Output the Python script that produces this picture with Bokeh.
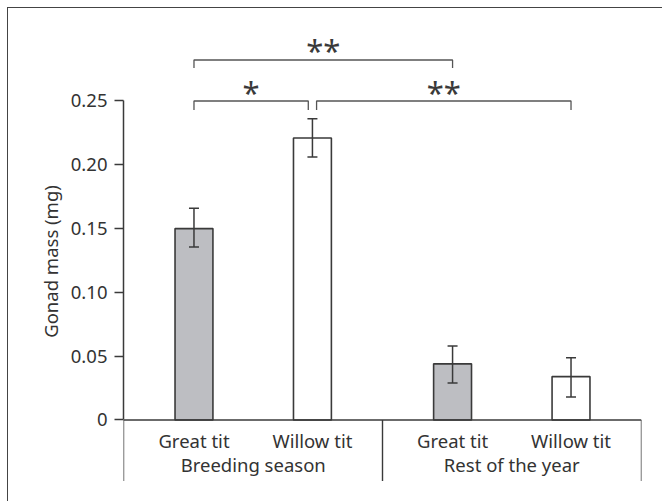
from bokeh.plotting import figure
from bokeh.models import (ColumnDataSource, FactorRange, Range1d, FixedTicker,
                          Whisker, TeeHead)
from bokeh.core.properties import value
from bokeh.embed import file_html
from bokeh.resources import INLINE

# ---------------- data ----------------
seasons = ["Breeding season", "Rest of the year"]
species = ["Great tit", "Willow tit"]
gonad_mass = [0.150, 0.221, 0.044, 0.034]
err_upper = [0.166, 0.236, 0.058, 0.0487]
err_lower = [0.1355, 0.206, 0.029, 0.018]
y_ticks = [0, 0.05, 0.10, 0.15, 0.20, 0.25]
y_tick_labels = ["0", "0.05", "0.10", "0.15", "0.20", "0.25"]
# significance comparisons between bars: (bar a, bar b, label, bracket level)
comparisons = [(0, 1, "*", 0), (1, 3, "**", 0), (0, 2, "**", 1)]

# ---------------- layout constants ----------------
FONT = "Noto Sans"
TXT = "#333333"
LINE = "#3a3a3a"
GROUP_PAD = 0.183
RANGE_PAD = 0.19 / (4 + GROUP_PAD)

factors = [(s, sp) for s in seasons for sp in species]
n = len(factors)


def syn(i):
    # synthetic coordinate of the i-th factor in the nested FactorRange
    return i + 0.5 + (i // len(species)) * GROUP_PAD


total = n + (len(seasons) - 1) * GROUP_PAD
half = total * RANGE_PAD / 2
x_left, x_right = -half, total + half

p = figure(width=655, height=494,
           x_range=FactorRange(*factors, factor_padding=0.0,
                               group_padding=GROUP_PAD,
                               range_padding=RANGE_PAD),
           y_range=Range1d(-0.0584, 0.3068),
           x_axis_location=None,
           output_backend="svg", toolbar_location=None,
           min_border_left=115, min_border_right=22,
           min_border_top=20, min_border_bottom=8)
p.outline_line_color = None
p.grid.visible = False
p.background_fill_color = "white"
p.border_fill_color = "white"
p.styles = {"margin-left": "7px", "margin-top": "7px",
            "border-left": "1.5px solid #444", "border-top": "1.5px solid #444"}

# ---------------- y axis ----------------
ax = p.yaxis[0]
ax.bounds = (0, 0.25)
ax.ticker = FixedTicker(ticks=y_ticks)
ax.major_label_overrides = {t: l for t, l in zip(y_ticks, y_tick_labels)}
ax.minor_tick_line_color = None
ax.major_tick_in = 0
ax.major_tick_out = 9
ax.major_tick_line_color = LINE
ax.major_tick_line_width = 1.5
ax.axis_line_color = LINE
ax.axis_line_width = 1.5
ax.major_label_standoff = 7
ax.major_label_text_font = FONT
ax.major_label_text_font_size = "18.5px"
ax.major_label_text_color = TXT
ax.axis_label = "Gonad mass (mg)"
ax.axis_label_text_font = FONT
ax.axis_label_text_font_size = "18.5px"
ax.axis_label_text_font_style = "normal"
ax.axis_label_text_color = TXT
ax.axis_label_standoff = 5

# ---------------- bars ----------------
src = ColumnDataSource(dict(
    x=factors, top=gonad_mass, upper=err_upper, lower=err_lower,
    fill=["#bdbec2", "white", "#bdbec2", "white"]))
p.vbar(x="x", top="top", width=0.32, source=src, fill_color="fill",
       line_color=LINE, line_width=1.6)
wh = Whisker(base="x", upper="upper", lower="lower", source=src,
             line_color=LINE, line_width=1.5, level="overlay",
             upper_head=TeeHead(size=10, line_color=LINE, line_width=1.5),
             lower_head=TeeHead(size=10, line_color=LINE, line_width=1.5))
p.add_layout(wh)

# ---------------- x axis (line, separators, labels) ----------------
sep_bottom = -0.0478
divs = [x_left] + [(syn(k * len(species) - 1) + syn(k * len(species))) / 2
                   for k in range(1, len(seasons))] + [x_right]
p.segment(x0=[x_left], y0=[0], x1=[x_right], y1=[0], line_color=LINE,
          line_width=1.6)
p.segment(x0=divs, y0=[0] * len(divs), x1=divs, y1=[sep_bottom] * len(divs),
          line_color=LINE, line_width=1.4)

p.text(x=[syn(i) for i in range(n)], y=[-0.0162] * n,
       text=[f[1] for f in factors], text_align="center",
       text_baseline="alphabetic", text_font=value(FONT),
       text_font_size="18.5px", text_color=TXT)
grp_x = [(syn(k * len(species)) + syn(k * len(species) + len(species) - 1)) / 2
         for k in range(len(seasons))]
p.text(x=grp_x, y=[-0.0347] * len(seasons), text=seasons, text_align="center",
       text_baseline="alphabetic", text_font=value(FONT),
       text_font_size="18.5px", text_color=TXT)

# ---------------- significance brackets ----------------
levels = {0: (0.25, 0.243, 0.2568), 1: (0.2821, 0.2759, 0.2898)}
gap = 0.035
bx, by, tx, ty, tt = [], [], [], [], []
for a, b, lab, lev in comparisons:
    xa, xb = syn(a), syn(b)
    for a2, b2, _, lev2 in comparisons:
        if lev2 != lev or (a2, b2) == (a, b):
            continue
        if b2 == a:
            xa += gap
        if a2 == b:
            xb -= gap
    top, tick, tyy = levels[lev]
    bx.append([xa, xa, xb, xb])
    by.append([tick, top, top, tick])
    tx.append((xa + xb) / 2)
    ty.append(tyy)
    tt.append(lab)
p.multi_line(xs=bx, ys=by, line_color="#555555", line_width=1.3)
p.text(x=tx, y=ty, text=tt, text_align="center", text_baseline="alphabetic",
       text_font=value(FONT), text_font_size="31px", text_color="#3a3a3a")

open("out.html", "w").write(file_html(p, INLINE))
